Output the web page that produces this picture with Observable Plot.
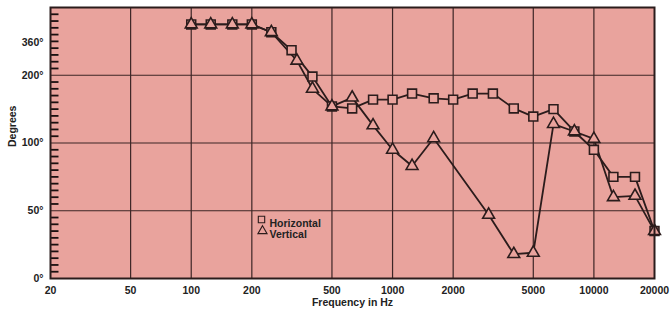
<!DOCTYPE html>
<html>
<head>
<meta charset="utf-8">
<script src="https://cdn.jsdelivr.net/npm/d3@7"></script>
<script src="https://cdn.jsdelivr.net/npm/@observablehq/plot@0.6"></script>
<style>
  html, body { margin: 0; padding: 0; background: #fff; }
  #chart svg { display: block; }
</style>
</head>
<body>
<div id="chart"></div>
<script>
// ---- data ----
const seriesNames = ["Horizontal", "Vertical"];
const freqH = [100,125,160,200,250,315,400,500,630,800,1000,1250,1600,2000,2500,3150,4000,5000,6300,8000,10000,12500,16000,20000];
const degH  = [350,350,350,350,327,274,198,154,151,164,164,173,166,164,173,173,151,139,150,117,95,75,75,35];
const freqV = [100,125,160,200,250,335,400,500,630,800,1000,1250,1600,3000,4000,5000,6300,8000,10000,12500,16000,20000];
const degV  = [350,350,350,350,327,243,180,154,167,126,95,83,107,47,18,19,128,117,106,60,61,35];
const xTicks = [20,50,100,200,500,1000,2000,5000,10000,20000];
const xGrid = [50,100,200,500,1000,2000,5000,10000];
const yTicks = [0,50,100,200];
const yTopLabel = [360];
const yDomain = [0,50,100,200,400];
const xDomain = [20, 20000];

// ---- layout / style ----
const W = 670, H = 311;
const mT = 7, mR = 16, mB = 33, mL = 50;
const pink = "#e9a39d";
const ink = "#2b1c1c";
const gridInk = "#3d2626";
const plotW = W - mL - mR;
const minorLen = 8;

const horiz = freqH.map((f, i) => ({f, d: degH[i]}));
const vert = freqV.map((f, i) => ({f, d: degV[i]}));

// minor ticks on the left axis (ten per segment)
const minor = [];
for (let s = 0; s < yDomain.length - 1; s++) {
  const a = yDomain[s], b = yDomain[s + 1];
  for (let k = 1; k < 10; k++) minor.push(a + (b - a) * k / 10);
}
const minorX2 = xDomain[0] * Math.pow(xDomain[1] / xDomain[0], minorLen / plotW);
const minorData = minor.map(v => ({v, a: xDomain[0], b: minorX2}));

const yRange = yDomain.map((_, i) => (H - mB) - i * (H - mB - mT) / (yDomain.length - 1));

const chart = Plot.plot({
  width: W, height: H,
  marginTop: mT, marginRight: mR, marginBottom: mB, marginLeft: mL,
  x: {type: "log", domain: xDomain, axis: null},
  y: {type: "linear", domain: yDomain, range: yRange},
  style: {fontFamily: "'Liberation Sans', Arial, sans-serif", fontWeight: "bold", fontSize: "10px", color: "#222", background: "#fff", overflow: "visible"},
  marks: [
    Plot.frame({fill: pink, stroke: "none"}),
    Plot.ruleX(xGrid, {x: d => d, stroke: gridInk, strokeWidth: 1.2}),
    Plot.ruleY(yTicks.filter(d => d > 0), {y: d => d, stroke: gridInk, strokeWidth: 1.2}),
    Plot.link(minorData, {x1: "a", x2: "b", y1: "v", y2: "v", stroke: "#1a1010", strokeWidth: 1.8}),
    Plot.line(vert, {x: "f", y: "d", stroke: ink, strokeWidth: 1.8}),
    Plot.line(horiz, {x: "f", y: "d", stroke: ink, strokeWidth: 1.8}),
    Plot.dot(horiz, {x: "f", y: "d", symbol: "square", r: 5, fill: pink, stroke: ink, strokeWidth: 1.6}),
    Plot.dot(vert, {x: "f", y: "d", symbol: "triangle", r: 4.4, fill: pink, stroke: ink, strokeWidth: 1.6}),
    Plot.frame({stroke: ink, strokeWidth: 2}),
    Plot.text(xTicks, {x: d => d, frameAnchor: "bottom", dy: 15, text: d => String(d), fill: "#222", fontWeight: "bold", fontSize: 10.5}),
    Plot.axisY(yTicks, {tickSize: 0, tickPadding: 7, tickFormat: d => d + "°", label: null, fill: "#222", fontWeight: "bold", fontSize: 10.5}),
    Plot.axisY(yTopLabel, {tickSize: 0, tickPadding: 7, dy: 22, tickFormat: d => d + "°", label: null, fill: "#222", fontWeight: "bold", fontSize: 10.5}),
    Plot.text(["Frequency in Hz"], {frameAnchor: "bottom", dy: 27, text: d => d, fill: "#222", fontWeight: "bold", fontSize: 10.5}),
    Plot.text(["Degrees"], {frameAnchor: "left", dx: -38, dy: 4, rotate: -90, text: d => d, fill: "#222", fontWeight: "bold", fontSize: 10.5}),
    // legend
    Plot.dot([seriesNames[0]], {frameAnchor: "top-left", dx: 211, dy: 212, symbol: "square", r: 3.6, fill: pink, stroke: ink, strokeWidth: 1.1}),
    Plot.dot([seriesNames[1]], {frameAnchor: "top-left", dx: 212, dy: 223.5, symbol: "triangle", r: 3.4, fill: pink, stroke: ink, strokeWidth: 1.1}),
    Plot.text([seriesNames[0]], {frameAnchor: "top-left", dx: 219, dy: 212, text: d => d, textAnchor: "start", fill: "#222", fontWeight: "bold", fontSize: 10.5}),
    Plot.text([seriesNames[1]], {frameAnchor: "top-left", dx: 219, dy: 223.5, text: d => d, textAnchor: "start", fill: "#222", fontWeight: "bold", fontSize: 10.5})
  ]
});
document.getElementById("chart").appendChild(chart);
</script>
</body>
</html>
